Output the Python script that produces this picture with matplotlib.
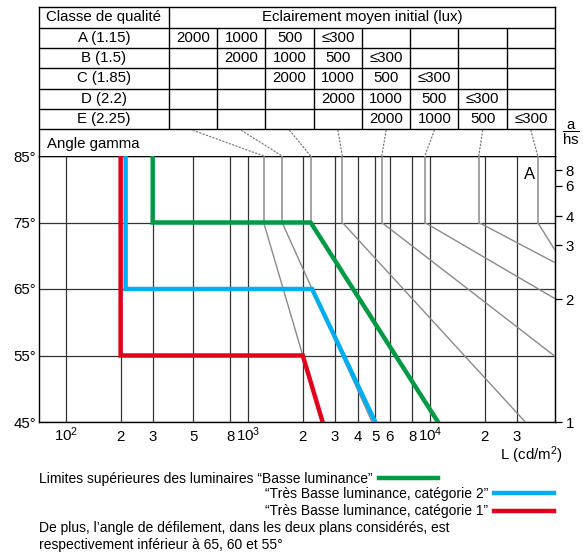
import numpy as np
import matplotlib
matplotlib.use('Agg')
from matplotlib import pyplot as plt
from matplotlib import transforms
from matplotlib.patches import ConnectionPatch, Rectangle

plt.rcParams['font.family'] = ['Liberation Sans', 'DejaVu Sans']
plt.rcParams['mathtext.fontset'] = 'custom'
plt.rcParams['mathtext.rm'] = 'Liberation Sans'
plt.rcParams['mathtext.it'] = 'Liberation Sans:italic'
plt.rcParams['mathtext.bf'] = 'Liberation Sans:bold'
plt.rcParams['font.size'] = 10.8

# table: quality classes and the illuminance levels (shifted one column per class)
quality_classes = ['A (1.15)', 'B (1.5)', 'C (1.85)', 'D (2.2)', 'E (2.25)']
illum_levels = ['2000', '1000', '500', '≤300']
class_first_col = [0, 1, 2, 3, 4]
n_cols = 8

# axes
L_ticks = [100, 200, 300, 500, 800, 1000, 2000, 3000, 4000, 5000, 6000, 8000, 10000, 20000, 30000]
L_ticklabels = ['10$^2$', '2', '3', '5', '8', '10$^3$', '2', '3', '4', '5', '6', '8', '10$^4$', '2', '3']
L_lim = [71, 48500]
gamma_ticks = [45, 55, 65, 75, 85]
ratio_ticks = [1, 2, 3, 4, 6, 8]

# grey limit curves, one per table column: vertical at L_top (85..75 deg), then a straight fall
curve_L_top = [1220, 1540, 2210, 3300, 5430, 9350, 18500, 39000]
curve_L_low = [2000, 2250, 11050, 33300, 41100, 41100, 41100, 41100]
curve_g_low = [55, 65, 45, 45, 56.4, 64.7, 70.0, 74.0]

# luminaire limits
green_L = [300, 300, 2210, 11050]
green_g = [85, 75, 75, 45]
blue_L = [213, 213, 2250, 5000]
blue_g = [85, 65, 65, 45]
red_L = [200, 200, 2000, 2570]
red_g = [85, 55, 55, 45]

GREEN = '#009a44'
BLUE = '#00aeef'
RED = '#e2001a'
GREY = '#8a8a8a'

W, H = 583, 552
fig = plt.figure(figsize=(W / 100, H / 100), dpi=100)

ax_l, ax_r, ax_t, ax_b = 38.7, 555.0, 156.0, 422.0
tab_t = 7.3
ax = fig.add_axes([ax_l / W, 1 - ax_b / H, (ax_r - ax_l) / W, (ax_b - ax_t) / H])
tab = fig.add_axes([ax_l / W, 1 - ax_t / H, (ax_r - ax_l) / W, (ax_t - tab_t) / H])

# ---- table ----
left_w = 2.7
tab.set_xlim(-left_w, n_cols)
tab.set_ylim(7.31, 0)
tab.set_xticks([])
tab.set_yticks([])
for s in ['top', 'left', 'right']:
    tab.spines[s].set_linewidth(1.0)
tab.spines['bottom'].set_visible(False)
tab.hlines(range(1, 7), -left_w, n_cols, color='k', lw=1.0)
tab.vlines(0, 0, 6, color='k', lw=1.0)
tab.vlines(range(1, n_cols), 1, 6, color='k', lw=1.0)

tab.text(-left_w / 2, 0.5, 'Classe de qualité', ha='center', va='center')
tab.text(n_cols / 2, 0.5, 'Eclairement moyen initial (lux)', ha='center', va='center')
for k, name in enumerate(quality_classes):
    tab.text(-left_w / 2, k + 1.5, name, ha='center', va='center')
    for j, lvl in enumerate(illum_levels):
        tab.text(class_first_col[k] + j + 0.5, k + 1.5, lvl, ha='center', va='center')
tab.text(-left_w + 0.17, 6.72, 'Angle gamma', ha='left', va='center')

# ---- main chart ----
ax.set_xscale('log')
ax.set_xlim(L_lim)
ax.set_ylim(45, 85)
ax.minorticks_off()
ax.set_xticks(L_ticks, L_ticklabels)
ax.set_yticks(gamma_ticks, [f'{g}°' for g in gamma_ticks])
ax.tick_params(axis='both', which='both', length=0)
ax.tick_params(axis='y', pad=2)
ax.tick_params(axis='x', pad=13.5)
for lab in ax.get_xticklabels():
    lab.set_verticalalignment('baseline')
ax.grid(True, color='#333333', lw=0.9)
for s in ax.spines.values():
    s.set_linewidth(1.0)

clip = Rectangle((0, 45), 1, 30,
                 transform=transforms.blended_transform_factory(ax.transAxes, ax.transData))
for i in range(n_cols):
    ax.plot([curve_L_top[i]] * 2, [85, 75], color=GREY, lw=1.1, zorder=3)
    ln = ax.axline((curve_L_top[i], 75), (curve_L_low[i], curve_g_low[i]), color=GREY, lw=1.0, zorder=3)
    ln.set_clip_path(clip)
    con = ConnectionPatch(xyA=(i + 0.5, 6.05), coordsA=tab.transData,
                          xyB=(curve_L_top[i], 85), coordsB=ax.transData,
                          color='#777777', lw=0.9, ls=(0, (1, 1.8)))
    fig.add_artist(con)

g_line, = ax.plot(green_L, green_g, color=GREEN, lw=3.2, solid_joinstyle='miter', zorder=6)
b_line, = ax.plot(blue_L, blue_g, color=BLUE, lw=3.2, solid_joinstyle='miter', zorder=6)
r_line, = ax.plot(red_L, red_g, color=RED, lw=3.2, solid_joinstyle='miter', zorder=6)

ax.text(0.95, 0.929, 'A', transform=ax.transAxes, ha='center', va='center', fontsize=12)

sec = ax.secondary_yaxis('right', functions=(lambda g: np.tan(np.radians(g)),
                                              lambda r: np.degrees(np.arctan(r))))
sec.set_yticks(ratio_ticks, [str(r) for r in ratio_ticks])
sec.tick_params(length=5.3, width=0.9, pad=2.4)
sec.minorticks_off()

fig.text(571 / W, 1 - 133 / H, r'$\dfrac{\mathrm{a}}{\mathrm{hs}}$', ha='center', va='center')
fig.text(563 / W, 1 - 455 / H, 'L (cd/m$^2$)', ha='right', va='center')

# ---- legend and note ----
fig.legend([g_line], ['Limites supérieures des luminaires “Basse luminance”'],
           loc='center left', bbox_to_anchor=(39 / W, 1 - 479 / H), markerfirst=False,
           frameon=False, borderpad=0, borderaxespad=0, handlelength=4.3,
           handletextpad=0.45, fontsize=10)
fig.legend([b_line, r_line], ['“Très Basse luminance, catégorie 2”', '“Très Basse luminance, catégorie 1”'],
           loc='upper right', bbox_to_anchor=(554 / W, 1 - 487 / H), markerfirst=False,
           frameon=False, borderpad=0, borderaxespad=0, handlelength=4.3,
           handletextpad=0.45, labelspacing=0.25, fontsize=10)
fig.text(39 / W, 1 - 528 / H, 'De plus, l’angle de défilement, dans les deux plans considérés, est',
         va='center', fontsize=10)
fig.text(39 / W, 1 - 545 / H, 'respectivement inférieur à 65, 60 et 55°', va='center', fontsize=10)

fig.savefig('out.png', dpi=100)
